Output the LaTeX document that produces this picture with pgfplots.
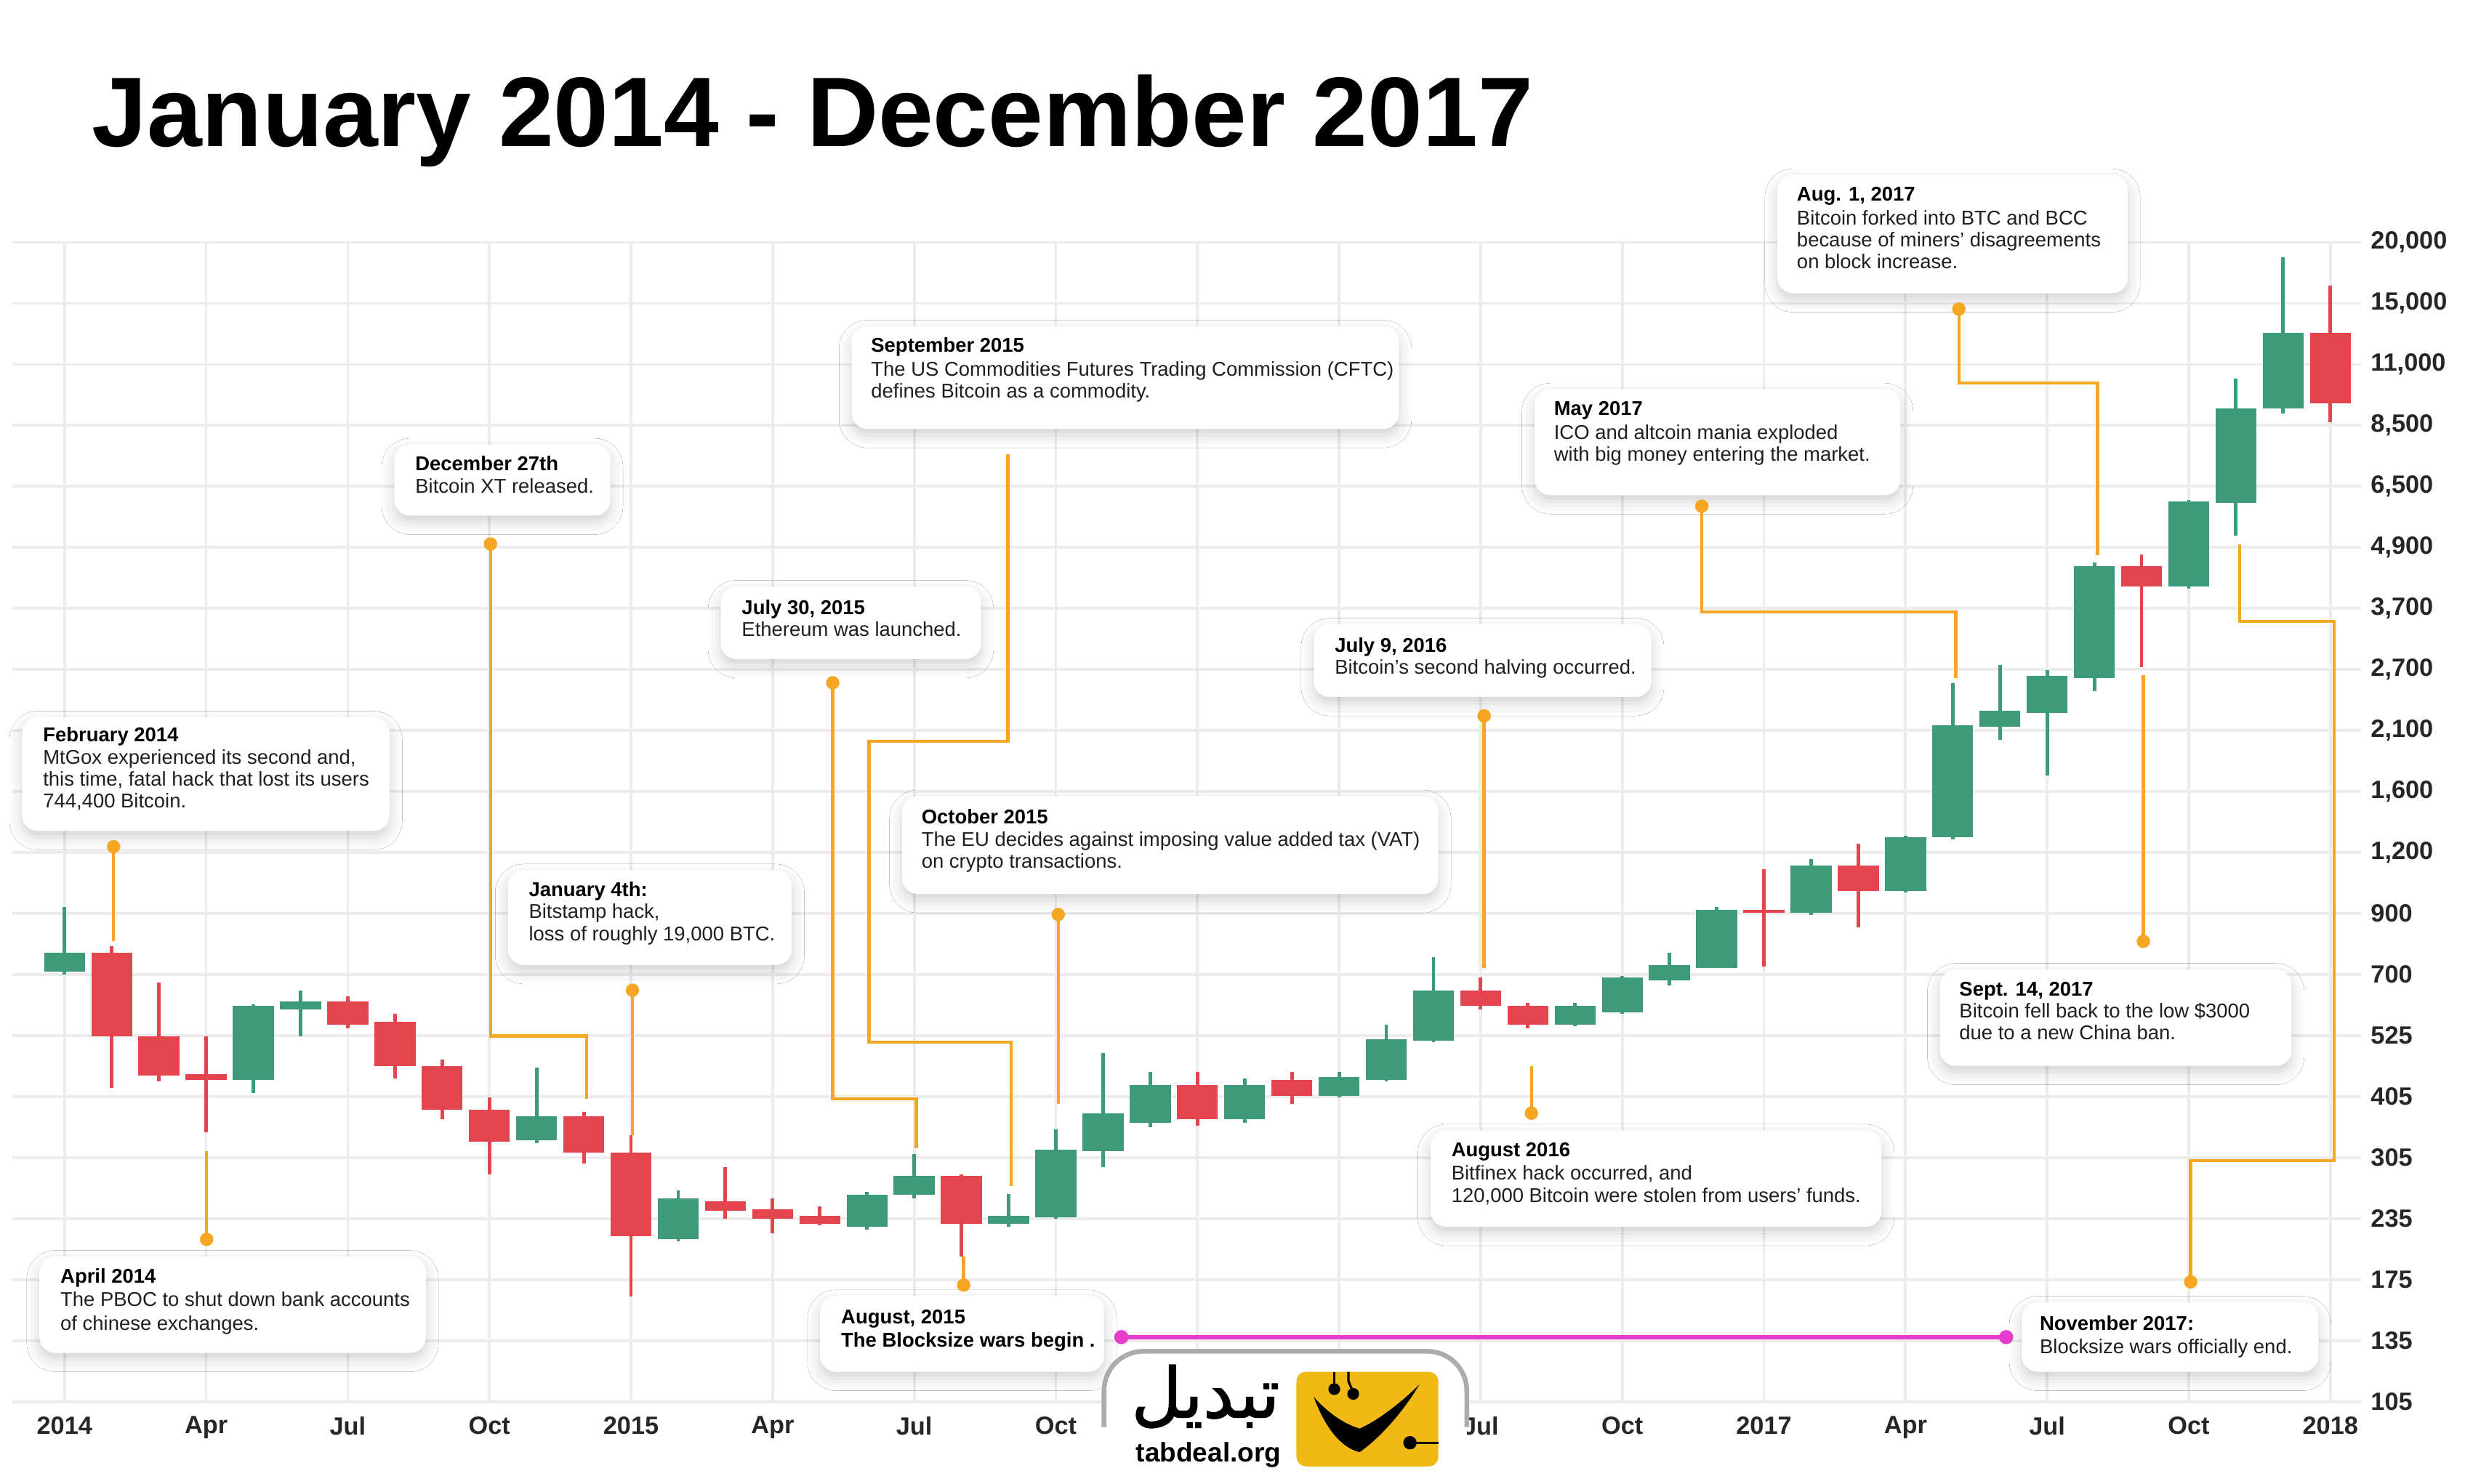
\documentclass[border=0pt]{standalone}
\usepackage{pgfplots}
\pgfplotsset{compat=1.18}
\usepackage{pgfplotstable}
\usepackage{fontspec}
\setmainfont{Liberation Sans}
\newfontfamily\arabicfont[Script=Arabic,FakeBold=1.5]{DejaVu Sans}
\TeXXeTstate=1
\usetikzlibrary{shadows.blur}

\definecolor{cgreen}{RGB}{61,155,122}
\definecolor{cred}{RGB}{227,69,79}
\definecolor{corange}{RGB}{245,166,35}
\definecolor{cmag}{RGB}{230,60,205}
\definecolor{cgrid}{RGB}{236,236,236}
\definecolor{cyellow}{RGB}{240,185,20}

% values in grid-row units: 0=105, 1=135, ..., 19=20,000
\pgfplotstableread{
m o h l c
0 7.05 8.11 7.00 7.36
4 5.27 6.51 5.06 6.49
5 6.43 6.74 5.99 6.56
10 4.29 5.48 4.24 4.68
13 2.66 3.46 2.63 3.33
17 2.87 3.44 2.82 3.39
18 3.39 4.06 3.33 3.70
20 2.92 3.41 2.87 3.05
21 3.02 4.47 3.00 4.13
22 4.11 5.71 3.85 4.73
23 4.57 5.40 4.50 5.19
25 4.63 5.30 4.57 5.19
27 5.01 5.40 4.99 5.32
28 5.27 6.18 5.25 5.94
29 5.92 7.29 5.89 6.74
32 6.18 6.54 6.15 6.49
33 6.38 6.98 6.36 6.95
34 6.90 7.36 6.82 7.16
35 7.11 8.11 7.11 8.06
37 8.01 8.89 7.98 8.79
39 8.37 9.28 8.35 9.25
40 9.25 11.78 9.22 11.09
41 11.06 12.07 10.85 11.32
42 11.29 11.99 10.26 11.89
43 11.86 13.75 11.65 13.70
45 13.36 14.78 13.33 14.75
46 14.73 16.77 14.19 16.28
47 16.28 18.76 16.20 17.52
}\greendata

\pgfplotstableread{
m o h l c
1 7.36 7.47 5.14 5.99
2 5.99 6.87 5.25 5.35
3 5.37 5.99 4.42 5.27
6 6.56 6.64 6.12 6.18
7 6.23 6.36 5.30 5.50
8 5.50 5.61 4.63 4.78
9 4.78 4.99 3.72 4.26
11 4.68 4.75 3.90 4.08
12 4.08 4.37 1.73 2.71
14 3.28 3.85 3.00 3.13
15 3.15 3.33 2.76 3.00
16 3.05 3.20 2.89 2.92
19 3.70 3.72 2.38 2.92
24 5.19 5.40 4.52 4.63
26 5.27 5.40 4.88 5.01
30 6.74 6.95 6.43 6.49
31 6.49 6.54 6.12 6.18
36 8.06 8.73 7.13 8.01
38 8.79 9.15 7.78 8.37
44 13.70 13.88 12.04 13.36
48 17.52 18.29 16.05 16.36
}\reddata

\newcommand{\bfnt}{\fontsize{7.2}{8.6}\selectfont}
\tikzset{
  ebox/.style={fill=white, rounded corners=2mm,
    blur shadow={shadow xshift=0mm, shadow yshift=-0.8mm, shadow blur radius=1.6mm, shadow opacity=18}},
  tl/.style={anchor=base west, inner sep=0pt, font=\bfnt, text=black!88},
  tb/.style={anchor=base west, inner sep=0pt, font=\bfnt\bfseries, text=black},
  co/.style={draw=corange, line width=0.4mm},
}
\newcommand{\calldot}[1]{\fill[corange] #1 circle (0.85mm);}
\pgfplotsset{candle/.style={only marks, mark=none, mark size=0pt, mark options={draw=none, fill=none}, forget plot,
  error bars/.cd, y dir=plus, y explicit, error mark=none, error bar style={#1}}}

\begin{document}
\begin{tikzpicture}
\path[use as bounding box, fill=white] (0,0) rectangle (313.6mm,-188.2mm);

\begin{axis}[
  at={(1.6mm,-177.8mm)}, anchor=south west,
  scale only axis, width=297.8mm, height=147.06mm,
  xmin=-1.1, xmax=48.65, ymin=0, ymax=19,
  axis line style={draw=none},
  major tick length=0pt,
  xtick={0,3,...,48},
  xticklabels={2014,Apr,Jul,Oct,2015,Apr,Jul,Oct,{},Apr,Jul,Oct,2017,Apr,Jul,Oct,2018},
  ytick={0,...,19},
  yticklabels={105,135,175,235,305,405,525,700,900,{1,200},{1,600},{2,100},{2,700},{3,700},{4,900},{6,500},{8,500},{11,000},{15,000},{20,000}},
  yticklabel pos=right,
  grid=major, grid style={draw=cgrid, line width=0.35mm},
  tick label style={font=\fontsize{9}{10}\selectfont\bfseries, text=black!85},
  xticklabel style={yshift=-0.65mm},
  yticklabel style={anchor=west},
]
% wicks
\addplot[candle={draw=cgreen, line width=0.45mm}]
  table[x=m, y=l, y error plus expr=\thisrow{h}-\thisrow{l}] {\greendata};
\addplot[candle={draw=cred, line width=0.45mm}]
  table[x=m, y=l, y error plus expr=\thisrow{h}-\thisrow{l}] {\reddata};
% bodies
\addplot[candle={draw=cgreen, line width=5.2mm}]
  table[x=m, y=o, y error plus expr=\thisrow{c}-\thisrow{o}] {\greendata};
\addplot[candle={draw=cred, line width=5.2mm}]
  table[x=m, y=c, y error plus expr=\thisrow{o}-\thisrow{c}] {\reddata};
\end{axis}

\begin{scope}[x=0.2mm, y=-0.2mm]
% title
\node[anchor=base west, inner sep=0pt, font=\fontsize{35.7}{40}\selectfont\bfseries] at (58,93) {January 2014 - December 2017};

% boxes
\fill[ebox] (14,455) rectangle (247,527);
\node[tb] at (27,470.5) {February 2014};
\node[tl] at (27,484.5) {MtGox experienced its second and,};
\node[tl] at (27,498.5) {this time, fatal hack that lost its users};
\node[tl] at (27,512.5) {744,400 Bitcoin.};

\fill[ebox] (25,797) rectangle (270,858);
\node[tb] at (38,813.5) {April 2014};
\node[tl] at (38,828.5) {The PBOC to shut down bank accounts};
\node[tl] at (38,843.5) {of chinese exchanges.};

\fill[ebox] (250,282) rectangle (387,327);
\node[tb] at (263,298.5) {December 27th};
\node[tl] at (263,312.5) {Bitcoin XT released.};

\fill[ebox] (322,552) rectangle (502,612);
\node[tb] at (335,568.5) {January 4th:};
\node[tl] at (335,582.5) {Bitstamp hack,};
\node[tl] at (335,596.5) {loss of roughly 19,000 BTC.};

\fill[ebox] (457,372) rectangle (622,418);
\node[tb] at (470,389.5) {July 30, 2015};
\node[tl] at (470,403.5) {Ethereum was launched.};

\fill[ebox] (540,207) rectangle (887,272);
\node[tb] at (552,223.5) {September 2015};
\node[tl] at (552,238.5) {The US Commodities Futures Trading Commission (CFTC)};
\node[tl] at (552,252.5) {defines Bitcoin as a commodity.};

\fill[ebox] (520,822) rectangle (700,870);
\node[tb] at (533,839.5) {August, 2015};
\node[tb] at (533,854.5) {The Blocksize wars begin .};

\fill[ebox] (572,505) rectangle (912,567);
\node[tb] at (584,522.5) {October 2015};
\node[tl] at (584,536.5) {The EU decides against imposing value added tax (VAT)};
\node[tl] at (584,550.5) {on crypto transactions.};

\fill[ebox] (833,396) rectangle (1047,442);
\node[tb] at (846,413.5) {July 9, 2016};
\node[tl] at (846,427.5) {Bitcoin’s second halving occurred.};

\fill[ebox] (907,717) rectangle (1193,778);
\node[tb] at (920,733.5) {August 2016};
\node[tl] at (920,748.5) {Bitfinex hack occurred, and};
\node[tl] at (920,762.5) {120,000 Bitcoin were stolen from users’ funds.};

\fill[ebox] (973,247) rectangle (1205,314);
\node[tb] at (985,263.5) {May 2017};
\node[tl] at (985,278.5) {ICO and altcoin mania exploded};
\node[tl] at (985,292.5) {with big money entering the market.};

\fill[ebox] (1127,111) rectangle (1349,186);
\node[tb] at (1139,127.5) {Aug. 1, 2017};
\node[tl] at (1139,142.5) {Bitcoin forked into BTC and BCC};
\node[tl] at (1139,156.5) {because of miners’ disagreements};
\node[tl] at (1139,170.5) {on block increase.};

\fill[ebox] (1230,615) rectangle (1453,676);
\node[tb] at (1242,631.5) {Sept. 14, 2017};
\node[tl] at (1242,645.5) {Bitcoin fell back to the low \$3000};
\node[tl] at (1242,659.5) {due to a new China ban.};

\fill[ebox] (1282,826) rectangle (1470,870);
\node[tb] at (1293,843.5) {November 2017:};
\node[tl] at (1293,858.5) {Blocksize wars officially end.};

% callout lines
\draw[co] (72,537) -- (72,597);
\draw[co] (131,786) -- (131,730);
\draw[co] (311,345) -- (311,657) -- (372,657) -- (372,697);
\draw[co] (401,628) -- (401,720);
\draw[co] (528,433) -- (528,697) -- (581,697) -- (581,728);
\draw[co] (639,288) -- (639,470) -- (551,470) -- (551,661) -- (641,661) -- (641,752);
\draw[co] (611,815) -- (611,797);
\draw[co] (671,580) -- (671,700);
\draw[co] (941,454) -- (941,614);
\draw[co] (971,706) -- (971,676);
\draw[co] (1079,321) -- (1079,388) -- (1240,388) -- (1240,430);
\draw[co] (1242,196) -- (1242,243) -- (1330,243) -- (1330,352);
\draw[co] (1359,597) -- (1359,428);
\draw[co] (1389,813) -- (1389,736) -- (1480,736) -- (1480,394) -- (1420,394) -- (1420,345);
\calldot{(72,537)} \calldot{(131,786)} \calldot{(311,345)} \calldot{(401,628)} \calldot{(528,433)}
\calldot{(611,815)} \calldot{(671,580)} \calldot{(941,454)} \calldot{(971,706)} \calldot{(1079,321)}
\calldot{(1242,196)} \calldot{(1359,597)} \calldot{(1389,813)}

% blocksize wars span
\draw[draw=cmag, line width=0.5mm] (711,848) -- (1272,848);
\fill[cmag] (711,848) circle (0.9mm);
\fill[cmag] (1272,848) circle (0.9mm);

% logo
\fill[white] (700,941) -- (700,882) arc[start angle=180, end angle=90, radius=5mm] -- (905,857) arc[start angle=90, end angle=0, radius=5mm] -- (930,941) -- cycle;
\draw[gray!65, line width=0.6mm] (700,905) -- (700,882) arc[start angle=180, end angle=90, radius=5mm] -- (905,857) arc[start angle=90, end angle=0, radius=5mm] -- (930,905);
\node[anchor=base west, inner sep=0pt, font=\arabicfont\fontsize{25}{25}\selectfont] at (717,899) {\beginR تبدیل\endR};
\node[anchor=base west, inner sep=0pt, font=\fontsize{9.7}{10}\selectfont\bfseries] at (720,927) {tabdeal.org};
\fill[cyellow, rounded corners=1.2mm] (822,870) rectangle (912,930);
\fill[black] (833,886) .. controls (840,905) and (850,918) .. (862,921)
  .. controls (875,912) and (890,895) .. (900,878)
  .. controls (888,890) and (872,902) .. (862,906)
  .. controls (852,903) and (842,896) .. (833,886) -- cycle;
\draw[black, line width=0.3mm] (846,880) -- (846,870);
\draw[black, line width=0.3mm] (858,883) -- (855,876) -- (855,870);
\fill[black] (846,881) circle (0.75mm);
\fill[black] (858,884) circle (0.75mm);
\draw[black, line width=0.3mm] (894,915) -- (912,915);
\fill[black] (894,915) circle (0.85mm);
\end{scope}
\end{tikzpicture}
\end{document}
